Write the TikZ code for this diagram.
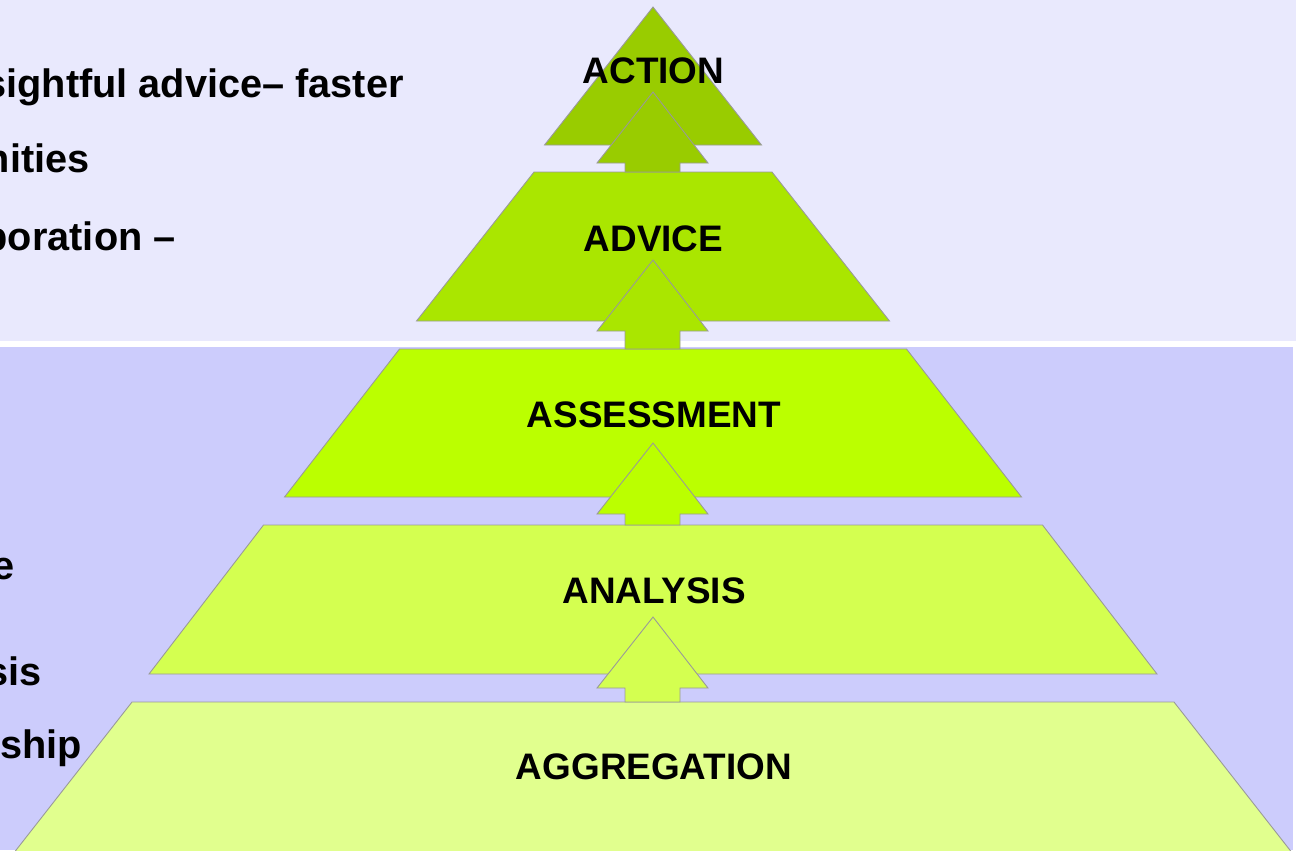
\documentclass[tikz,border=0pt]{standalone}
\usepackage{fontspec}
\setmainfont{Liberation Sans}
\usetikzlibrary{calc}

\definecolor{topback}{HTML}{E9E9FD}
\definecolor{lowback}{HTML}{CCCCFC}
\definecolor{actioncol}{HTML}{99CC00}
\definecolor{advicecol}{HTML}{AAE600}
\definecolor{assesscol}{HTML}{BBFF00}
\definecolor{analysiscol}{HTML}{D4FF50}
\definecolor{aggregcol}{HTML}{E1FF8E}

\tikzset{
	tier/.style={draw=black!40, line width=0.5pt, line join=miter},
	tierlabel/.style={font=\bfseries\fontsize{21}{25}\selectfont, inner sep=0pt, anchor=base},
	sidetext/.style={font=\bfseries\fontsize{22.6}{27}\selectfont, inner sep=0pt, anchor=base east}
}

\begin{document}
\begin{tikzpicture}[x=0.02cm,y=-0.02cm]

\useasboundingbox (0,0) rectangle (1297,850);
\clip (0,0) rectangle (1297,850);

%background bands
\fill[white] (0,0) rectangle (1297,850);
\fill[topback] (0,0) rectangle (1296,341);
\fill[lowback] (0,347) rectangle (1293,850);

%text on the left, cut by the edge
\node[sidetext](side1) at (404,97){sightful advice– faster};
\node[sidetext](side2) at (90,172){nities};
\node[sidetext](side3) at (176,250){poration –};
\node[sidetext](side4) at (15,579){e};
\node[sidetext](side5) at (42,685){sis};
\node[sidetext](side6) at (82,758){ship};

%tiers: top / top half width / bottom / bottom half width / colour / name
\foreach \t/\a/\b/\c/\col/\n in {7/0/145/108.5/actioncol/action,
	172/119/321/236.5/advicecol/advice,
	349/253.5/497/368.5/assesscol/assess,
	525/389.5/674/504/analysiscol/analysis,
	702/521/854/640/aggregcol/aggreg}
{
	\filldraw[tier,fill=\col] (653-\a,\t) -- (653+\a,\t) -- (653+\c,\b) -- (653-\c,\b) -- cycle;
	\coordinate(\n top) at (653,\t);
}

%arrows between tiers: lower tier / shaft length / colour
\foreach \n/\s/\col in {advice/9/actioncol, assess/18/advicecol, analysis/11/assesscol, aggreg/14/analysiscol}
{
	\filldraw[tier,fill=\col] ($(\n top)+(-28,0)$) -- ($(\n top)+(-28,-\s)$) -- ($(\n top)+(-56,-\s)$)
		-- ($(\n top)+(0,-\s-71)$) -- ($(\n top)+(55,-\s)$) -- ($(\n top)+(27,-\s)$) -- ($(\n top)+(27,0)$) -- cycle;
}

%labels
\node[tierlabel](actionlab) at (653.5,83){ACTION};
\node[tierlabel](advicelab) at (653.5,251){ADVICE};
\node[tierlabel](assesslab) at (654,427){ASSESSMENT};
\node[tierlabel](analysislab) at (654,603){ANALYSIS};
\node[tierlabel](aggreglab) at (654,779){AGGREGATION};

\end{tikzpicture}
\end{document}
